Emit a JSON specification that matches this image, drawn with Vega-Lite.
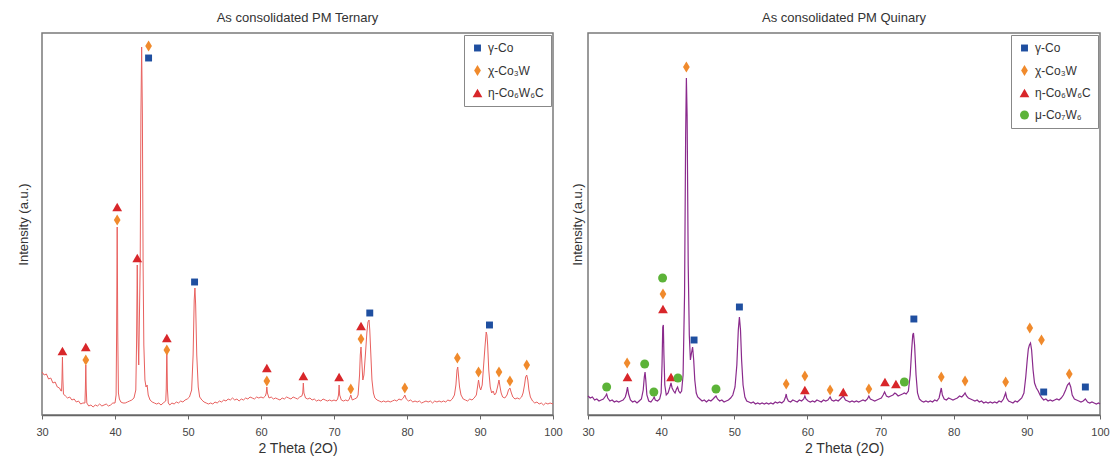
{
"$schema": "https://vega.github.io/schema/vega-lite/v6.json",
"background": "white",
"padding": {"left": 16, "top": 11, "right": 5, "bottom": 2},
"spacing": 7,
"config": {
  "font": "Liberation Sans",
  "view": {"stroke": "#7a7a7a", "strokeWidth": 1.5},
  "title": {"fontSize": 13, "fontWeight": "normal", "color": "#333333", "offset": 8, "font": "Liberation Sans"},
  "axis": {"grid": false, "labelFont": "Liberation Sans", "titleFont": "Liberation Sans", "labelColor": "#444444", "titleColor": "#333333", "titleFontWeight": "normal"},
  "legend": {"labelFont": "Liberation Sans", "labelFontSize": 12, "labelColor": "#333333", "strokeColor": "#888888", "fillColor": "white", "padding": 7, "rowPadding": 10, "offset": 2}
},
"datasets": {
"ternLine": [
{"t":30.0,"i":43},{"t":30.3,"i":40},{"t":30.6,"i":41},{"t":30.9,"i":36},{"t":31.2,"i":37},{"t":31.5,"i":32},{"t":31.8,"i":33},{"t":32.1,"i":28},{"t":32.4,"i":27},{"t":32.6,"i":24},
{"t":32.68,"i":24},{"t":32.74,"i":36},{"t":32.8,"i":58},{"t":32.86,"i":36},{"t":32.94,"i":21},
{"t":33.2,"i":19},{"t":33.5,"i":17},{"t":33.8,"i":18},{"t":34.1,"i":15},{"t":34.4,"i":16},{"t":34.7,"i":13},{"t":35.0,"i":14},{"t":35.3,"i":11},{"t":35.6,"i":12},{"t":35.88,"i":12},
{"t":35.94,"i":26},{"t":36.0,"i":50},{"t":36.06,"i":26},{"t":36.14,"i":12},
{"t":36.4,"i":9},{"t":36.7,"i":10},{"t":37.0,"i":8},{"t":37.3,"i":10},{"t":37.6,"i":9},{"t":37.9,"i":11},{"t":38.2,"i":9},{"t":38.5,"i":10},{"t":38.8,"i":11},{"t":39.1,"i":9},{"t":39.4,"i":10},{"t":39.7,"i":12},{"t":40.0,"i":12},
{"t":40.15,"i":20},{"t":40.22,"i":80},{"t":40.3,"i":188},{"t":40.38,"i":80},{"t":40.47,"i":22},
{"t":40.6,"i":16},{"t":40.8,"i":13},{"t":41.1,"i":12},{"t":41.4,"i":12},{"t":41.7,"i":13},{"t":42.0,"i":14},{"t":42.3,"i":15},{"t":42.6,"i":17},
{"t":42.85,"i":25},{"t":42.95,"i":70},{"t":43.05,"i":150},{"t":43.15,"i":80},{"t":43.25,"i":50},{"t":43.45,"i":150},{"t":43.55,"i":300},{"t":43.65,"i":368},{"t":43.75,"i":300},{"t":43.85,"i":150},{"t":43.95,"i":70},{"t":44.1,"i":35},{"t":44.25,"i":28},{"t":44.4,"i":30},{"t":44.55,"i":20},
{"t":44.8,"i":15},{"t":45.1,"i":13},{"t":45.4,"i":12},{"t":45.7,"i":11},{"t":46.0,"i":12},{"t":46.3,"i":10},{"t":46.6,"i":12},{"t":46.95,"i":14},
{"t":47.02,"i":26},{"t":47.1,"i":66},{"t":47.18,"i":26},{"t":47.3,"i":12},
{"t":47.5,"i":10},{"t":47.8,"i":12},{"t":48.1,"i":11},{"t":48.4,"i":13},{"t":48.7,"i":12},{"t":49.0,"i":14},{"t":49.3,"i":13},{"t":49.6,"i":15},{"t":49.9,"i":16},{"t":50.2,"i":18},
{"t":50.5,"i":25},{"t":50.7,"i":60},{"t":50.85,"i":115},{"t":50.95,"i":127},{"t":51.05,"i":110},{"t":51.2,"i":60},{"t":51.4,"i":28},{"t":51.6,"i":18},
{"t":51.9,"i":15},{"t":52.2,"i":13},{"t":52.5,"i":12},{"t":52.8,"i":11},{"t":53.1,"i":12},{"t":53.4,"i":11},{"t":53.7,"i":13},{"t":54.0,"i":12},{"t":54.3,"i":14},{"t":54.6,"i":13},{"t":54.9,"i":15},{"t":55.2,"i":14},{"t":55.5,"i":16},{"t":55.8,"i":15},{"t":56.1,"i":17},{"t":56.4,"i":15},{"t":56.7,"i":16},{"t":57.0,"i":14},{"t":57.3,"i":16},{"t":57.6,"i":15},{"t":57.9,"i":17},{"t":58.2,"i":16},{"t":58.5,"i":18},{"t":58.8,"i":17},{"t":59.1,"i":16},{"t":59.4,"i":18},{"t":59.7,"i":17},{"t":60.0,"i":18},{"t":60.3,"i":17},{"t":60.6,"i":19},
{"t":60.72,"i":22},{"t":60.8,"i":28},{"t":60.88,"i":22},
{"t":61.1,"i":17},{"t":61.4,"i":18},{"t":61.7,"i":16},{"t":62.0,"i":17},{"t":62.3,"i":16},{"t":62.6,"i":15},{"t":62.9,"i":17},{"t":63.2,"i":16},{"t":63.5,"i":18},{"t":63.8,"i":17},{"t":64.1,"i":16},{"t":64.4,"i":18},{"t":64.7,"i":17},{"t":65.0,"i":16},{"t":65.3,"i":18},{"t":65.6,"i":19},
{"t":65.72,"i":22},{"t":65.8,"i":32},{"t":65.88,"i":22},
{"t":66.1,"i":17},{"t":66.4,"i":16},{"t":66.7,"i":17},{"t":67.0,"i":15},{"t":67.3,"i":16},{"t":67.6,"i":14},{"t":67.9,"i":15},{"t":68.2,"i":14},{"t":68.5,"i":16},{"t":68.8,"i":15},{"t":69.1,"i":14},{"t":69.4,"i":15},{"t":69.7,"i":14},{"t":70.0,"i":15},{"t":70.3,"i":14},{"t":70.5,"i":16},
{"t":70.62,"i":20},{"t":70.7,"i":30},{"t":70.78,"i":20},
{"t":71.0,"i":15},{"t":71.3,"i":14},{"t":71.6,"i":15},{"t":71.9,"i":14},{"t":72.1,"i":16},{"t":72.3,"i":20},{"t":72.5,"i":15},{"t":72.8,"i":16},{"t":73.1,"i":17},
{"t":73.3,"i":20},{"t":73.5,"i":40},{"t":73.6,"i":60},{"t":73.7,"i":68},{"t":73.8,"i":55},{"t":73.95,"i":35},{"t":74.1,"i":40},{"t":74.3,"i":60},{"t":74.5,"i":82},{"t":74.65,"i":93},{"t":74.8,"i":95},{"t":74.9,"i":85},{"t":75.05,"i":60},{"t":75.2,"i":35},{"t":75.4,"i":22},{"t":75.6,"i":17},
{"t":75.9,"i":15},{"t":76.2,"i":14},{"t":76.5,"i":13},{"t":76.8,"i":14},{"t":77.1,"i":13},{"t":77.4,"i":14},{"t":77.7,"i":13},{"t":78.0,"i":14},{"t":78.3,"i":15},{"t":78.6,"i":14},{"t":78.9,"i":16},{"t":79.2,"i":15},{"t":79.5,"i":17},{"t":79.7,"i":20},{"t":79.9,"i":16},
{"t":80.2,"i":14},{"t":80.5,"i":15},{"t":80.8,"i":13},{"t":81.1,"i":14},{"t":81.4,"i":13},{"t":81.7,"i":14},{"t":82.0,"i":12},{"t":82.3,"i":13},{"t":82.6,"i":14},{"t":82.9,"i":13},{"t":83.2,"i":14},{"t":83.5,"i":12},{"t":83.8,"i":14},{"t":84.1,"i":13},{"t":84.4,"i":14},{"t":84.7,"i":13},{"t":85.0,"i":14},{"t":85.3,"i":13},{"t":85.6,"i":15},{"t":85.9,"i":14},{"t":86.2,"i":16},
{"t":86.5,"i":20},{"t":86.7,"i":30},{"t":86.85,"i":45},{"t":86.95,"i":48},{"t":87.05,"i":40},{"t":87.2,"i":28},{"t":87.4,"i":20},
{"t":87.7,"i":16},{"t":88.0,"i":15},{"t":88.3,"i":14},{"t":88.6,"i":16},{"t":88.9,"i":15},{"t":89.2,"i":17},
{"t":89.5,"i":20},{"t":89.7,"i":30},{"t":89.8,"i":35},{"t":89.95,"i":28},{"t":90.1,"i":25},{"t":90.3,"i":30},{"t":90.5,"i":50},{"t":90.7,"i":70},{"t":90.85,"i":83},{"t":90.95,"i":80},{"t":91.05,"i":70},{"t":91.2,"i":45},{"t":91.4,"i":28},{"t":91.6,"i":22},{"t":91.8,"i":24},{"t":92.0,"i":20},{"t":92.2,"i":22},{"t":92.4,"i":28},{"t":92.6,"i":35},{"t":92.75,"i":28},{"t":92.9,"i":22},{"t":93.1,"i":18},{"t":93.4,"i":17},{"t":93.7,"i":20},{"t":93.9,"i":25},{"t":94.1,"i":27},{"t":94.3,"i":22},{"t":94.5,"i":18},
{"t":94.8,"i":16},{"t":95.1,"i":17},{"t":95.4,"i":16},{"t":95.7,"i":18},{"t":95.9,"i":22},{"t":96.1,"i":30},{"t":96.25,"i":38},{"t":96.4,"i":40},{"t":96.55,"i":35},{"t":96.7,"i":25},{"t":96.9,"i":18},
{"t":97.2,"i":14},{"t":97.5,"i":12},{"t":97.8,"i":13},{"t":98.1,"i":11},{"t":98.4,"i":12},{"t":98.7,"i":10},{"t":99.0,"i":12},{"t":99.3,"i":11},{"t":99.6,"i":12},{"t":100.0,"i":11}
],
"ternMarks": [
{"t":44.6,"i":357,"p":"γ-Co"},{"t":50.9,"i":133,"p":"γ-Co"},{"t":74.9,"i":102,"p":"γ-Co"},{"t":91.3,"i":90,"p":"γ-Co"},
{"t":44.6,"i":369,"p":"χ-Co₃W"},{"t":40.3,"i":195,"p":"χ-Co₃W"},{"t":36.0,"i":55,"p":"χ-Co₃W"},{"t":47.1,"i":65,"p":"χ-Co₃W"},{"t":60.8,"i":34,"p":"χ-Co₃W"},{"t":72.3,"i":26,"p":"χ-Co₃W"},{"t":73.7,"i":76,"p":"χ-Co₃W"},{"t":79.7,"i":27,"p":"χ-Co₃W"},{"t":86.9,"i":57,"p":"χ-Co₃W"},{"t":89.8,"i":43,"p":"χ-Co₃W"},{"t":92.6,"i":43,"p":"χ-Co₃W"},{"t":94.1,"i":34,"p":"χ-Co₃W"},{"t":96.4,"i":50,"p":"χ-Co₃W"},
{"t":32.8,"i":64,"p":"η-Co₆W₆C"},{"t":36.0,"i":68,"p":"η-Co₆W₆C"},{"t":40.3,"i":208,"p":"η-Co₆W₆C"},{"t":43.05,"i":157,"p":"η-Co₆W₆C"},{"t":47.1,"i":77,"p":"η-Co₆W₆C"},{"t":60.8,"i":47,"p":"η-Co₆W₆C"},{"t":65.8,"i":39,"p":"η-Co₆W₆C"},{"t":70.7,"i":38,"p":"η-Co₆W₆C"},{"t":73.7,"i":89,"p":"η-Co₆W₆C"}
],
"quinLine": [
{"t":30.0,"i":19},{"t":30.3,"i":17},{"t":30.6,"i":18},{"t":30.9,"i":15},{"t":31.2,"i":16},{"t":31.5,"i":14},{"t":31.8,"i":15},{"t":32.1,"i":16},{"t":32.4,"i":19},{"t":32.55,"i":21},{"t":32.7,"i":17},
{"t":33.0,"i":14},{"t":33.3,"i":15},{"t":33.6,"i":13},{"t":33.9,"i":14},{"t":34.2,"i":13},{"t":34.5,"i":14},{"t":34.8,"i":15},{"t":35.1,"i":18},{"t":35.25,"i":22},{"t":35.4,"i":28},{"t":35.55,"i":21},{"t":35.8,"i":15},
{"t":36.1,"i":13},{"t":36.4,"i":14},{"t":36.7,"i":12},{"t":37.0,"i":14},{"t":37.3,"i":16},{"t":37.55,"i":25},{"t":37.7,"i":38},{"t":37.8,"i":43},{"t":37.9,"i":35},{"t":38.05,"i":20},
{"t":38.3,"i":14},{"t":38.6,"i":13},{"t":38.9,"i":16},{"t":39.05,"i":18},{"t":39.2,"i":15},{"t":39.5,"i":14},{"t":39.8,"i":16},
{"t":40.0,"i":22},{"t":40.12,"i":50},{"t":40.22,"i":88},{"t":40.3,"i":90},{"t":40.38,"i":60},{"t":40.5,"i":30},{"t":40.7,"i":20},{"t":40.95,"i":22},{"t":41.2,"i":28},{"t":41.35,"i":32},{"t":41.5,"i":27},{"t":41.7,"i":24},{"t":41.9,"i":22},{"t":42.1,"i":26},{"t":42.25,"i":28},{"t":42.4,"i":24},{"t":42.6,"i":22},{"t":42.8,"i":24},
{"t":43.0,"i":40},{"t":43.2,"i":120},{"t":43.35,"i":280},{"t":43.45,"i":337},{"t":43.55,"i":300},{"t":43.7,"i":150},{"t":43.85,"i":80},{"t":44.0,"i":55},{"t":44.15,"i":62},{"t":44.3,"i":68},{"t":44.45,"i":55},{"t":44.6,"i":35},{"t":44.8,"i":22},
{"t":45.0,"i":18},{"t":45.3,"i":16},{"t":45.6,"i":14},{"t":45.9,"i":15},{"t":46.2,"i":13},{"t":46.5,"i":15},{"t":46.8,"i":14},{"t":47.1,"i":16},{"t":47.35,"i":18},{"t":47.5,"i":19},{"t":47.7,"i":16},
{"t":48.0,"i":14},{"t":48.3,"i":15},{"t":48.6,"i":13},{"t":48.9,"i":14},{"t":49.2,"i":15},{"t":49.5,"i":17},{"t":49.8,"i":20},{"t":50.1,"i":28},{"t":50.35,"i":50},{"t":50.55,"i":85},{"t":50.7,"i":98},{"t":50.85,"i":85},{"t":51.0,"i":55},{"t":51.2,"i":30},{"t":51.45,"i":18},{"t":51.7,"i":14},
{"t":52.0,"i":13},{"t":52.3,"i":12},{"t":52.6,"i":13},{"t":52.9,"i":11},{"t":53.2,"i":12},{"t":53.5,"i":11},{"t":53.8,"i":12},{"t":54.1,"i":11},{"t":54.4,"i":12},{"t":54.7,"i":11},{"t":55.0,"i":12},{"t":55.3,"i":11},{"t":55.6,"i":13},{"t":55.9,"i":12},{"t":56.2,"i":13},{"t":56.5,"i":12},{"t":56.8,"i":14},{"t":57.0,"i":18},{"t":57.1,"i":21},{"t":57.2,"i":17},{"t":57.4,"i":14},
{"t":57.7,"i":13},{"t":58.0,"i":15},{"t":58.3,"i":14},{"t":58.6,"i":13},{"t":58.9,"i":15},{"t":59.2,"i":14},{"t":59.5,"i":16},{"t":59.65,"i":19},{"t":59.8,"i":16},{"t":60.1,"i":14},{"t":60.4,"i":13},{"t":60.7,"i":14},{"t":61.0,"i":13},{"t":61.3,"i":15},{"t":61.6,"i":14},{"t":61.9,"i":13},{"t":62.2,"i":15},{"t":62.5,"i":14},{"t":62.8,"i":15},{"t":63.1,"i":18},{"t":63.3,"i":15},
{"t":63.6,"i":14},{"t":63.9,"i":15},{"t":64.2,"i":14},{"t":64.5,"i":16},{"t":64.9,"i":19},{"t":65.2,"i":15},{"t":65.5,"i":14},{"t":65.8,"i":13},{"t":66.1,"i":14},{"t":66.4,"i":13},{"t":66.7,"i":14},{"t":67.0,"i":13},{"t":67.3,"i":14},{"t":67.6,"i":15},{"t":67.9,"i":14},{"t":68.2,"i":16},{"t":68.4,"i":19},{"t":68.6,"i":16},
{"t":68.9,"i":15},{"t":69.2,"i":14},{"t":69.5,"i":15},{"t":69.8,"i":16},{"t":70.1,"i":17},{"t":70.35,"i":20},{"t":70.55,"i":23},{"t":70.8,"i":19},{"t":71.1,"i":18},{"t":71.4,"i":19},{"t":71.7,"i":20},{"t":71.95,"i":22},{"t":72.15,"i":21},{"t":72.4,"i":19},{"t":72.7,"i":20},{"t":73.0,"i":21},{"t":73.25,"i":22},{"t":73.5,"i":21},{"t":73.8,"i":24},
{"t":74.05,"i":40},{"t":74.25,"i":65},{"t":74.4,"i":80},{"t":74.5,"i":82},{"t":74.65,"i":70},{"t":74.85,"i":40},{"t":75.05,"i":22},{"t":75.3,"i":16},
{"t":75.6,"i":14},{"t":75.9,"i":13},{"t":76.2,"i":14},{"t":76.5,"i":13},{"t":76.8,"i":14},{"t":77.1,"i":13},{"t":77.4,"i":15},{"t":77.7,"i":14},{"t":78.0,"i":17},{"t":78.15,"i":22},{"t":78.3,"i":27},{"t":78.45,"i":20},{"t":78.7,"i":16},
{"t":79.0,"i":15},{"t":79.3,"i":17},{"t":79.6,"i":16},{"t":79.9,"i":15},{"t":80.2,"i":16},{"t":80.5,"i":17},{"t":80.8,"i":19},{"t":81.1,"i":18},{"t":81.35,"i":20},{"t":81.55,"i":22},{"t":81.75,"i":19},{"t":82.0,"i":17},
{"t":82.3,"i":16},{"t":82.6,"i":15},{"t":82.9,"i":14},{"t":83.2,"i":15},{"t":83.5,"i":13},{"t":83.8,"i":14},{"t":84.1,"i":12},{"t":84.4,"i":13},{"t":84.7,"i":12},{"t":85.0,"i":13},{"t":85.3,"i":12},{"t":85.6,"i":13},{"t":85.9,"i":12},{"t":86.2,"i":14},{"t":86.5,"i":13},{"t":86.8,"i":16},{"t":87.0,"i":20},{"t":87.1,"i":22},{"t":87.25,"i":17},{"t":87.5,"i":14},
{"t":87.8,"i":13},{"t":88.1,"i":12},{"t":88.4,"i":14},{"t":88.7,"i":13},{"t":89.0,"i":15},{"t":89.3,"i":17},{"t":89.6,"i":22},{"t":89.85,"i":38},{"t":90.05,"i":55},{"t":90.2,"i":66},{"t":90.35,"i":70},{"t":90.5,"i":72},{"t":90.65,"i":65},{"t":90.85,"i":45},{"t":91.05,"i":32},{"t":91.3,"i":27},{"t":91.55,"i":24},{"t":91.8,"i":20},{"t":92.05,"i":17},
{"t":92.3,"i":15},{"t":92.6,"i":16},{"t":92.9,"i":14},{"t":93.2,"i":15},{"t":93.5,"i":14},{"t":93.8,"i":15},{"t":94.1,"i":16},{"t":94.4,"i":15},{"t":94.7,"i":17},{"t":95.0,"i":20},{"t":95.3,"i":25},{"t":95.55,"i":30},{"t":95.8,"i":32},{"t":96.0,"i":28},{"t":96.2,"i":20},{"t":96.5,"i":16},
{"t":96.8,"i":15},{"t":97.1,"i":14},{"t":97.4,"i":13},{"t":97.7,"i":14},{"t":98.0,"i":16},{"t":98.3,"i":13},{"t":98.6,"i":12},{"t":98.9,"i":13},{"t":99.2,"i":12},{"t":99.5,"i":11},{"t":99.8,"i":12},{"t":100.0,"i":11}
],
"quinMarks": [
{"t":44.5,"i":75,"p":"γ-Co"},{"t":50.7,"i":108,"p":"γ-Co"},{"t":74.55,"i":96,"p":"γ-Co"},{"t":92.3,"i":23,"p":"γ-Co"},{"t":98.0,"i":28,"p":"γ-Co"},
{"t":43.45,"i":348,"p":"χ-Co₃W"},{"t":40.25,"i":121,"p":"χ-Co₃W"},{"t":35.35,"i":52,"p":"χ-Co₃W"},{"t":57.1,"i":31,"p":"χ-Co₃W"},{"t":59.65,"i":39,"p":"χ-Co₃W"},{"t":63.1,"i":25,"p":"χ-Co₃W"},{"t":68.4,"i":26,"p":"χ-Co₃W"},{"t":78.3,"i":38,"p":"χ-Co₃W"},{"t":81.55,"i":34,"p":"χ-Co₃W"},{"t":87.1,"i":33,"p":"χ-Co₃W"},{"t":90.4,"i":87,"p":"χ-Co₃W"},{"t":92.0,"i":75,"p":"χ-Co₃W"},{"t":95.8,"i":41,"p":"χ-Co₃W"},
{"t":35.4,"i":38,"p":"η-Co₆W₆C"},{"t":40.25,"i":106,"p":"η-Co₆W₆C"},{"t":41.35,"i":38,"p":"η-Co₆W₆C"},{"t":59.65,"i":25,"p":"η-Co₆W₆C"},{"t":64.9,"i":23,"p":"η-Co₆W₆C"},{"t":70.6,"i":33,"p":"η-Co₆W₆C"},{"t":72.1,"i":31,"p":"η-Co₆W₆C"},
{"t":32.55,"i":28,"p":"μ-Co₇W₆"},{"t":37.75,"i":51,"p":"μ-Co₇W₆"},{"t":39.0,"i":23,"p":"μ-Co₇W₆"},{"t":40.2,"i":137,"p":"μ-Co₇W₆"},{"t":42.3,"i":37,"p":"μ-Co₇W₆"},{"t":47.5,"i":26,"p":"μ-Co₇W₆"},{"t":73.25,"i":33,"p":"μ-Co₇W₆"}
]
},
"hconcat": [
{
  "title": {"text": "As consolidated PM Ternary"},
  "width": 511, "height": 382,
  "layer": [
    {"data": {"name": "ternLine"},
     "mark": {"type": "line", "color": "#e8605e", "strokeWidth": 1, "interpolate": "linear"},
     "encoding": {
       "x": {"field": "t", "type": "quantitative", "scale": {"domain": [30, 100], "nice": false},
             "axis": {"title": "2 Theta (2O)", "values": [30,32.5,35,37.5,40,42.5,45,47.5,50,52.5,55,57.5,60,62.5,65,67.5,70,72.5,75,77.5,80,82.5,85,87.5,90,92.5,95,97.5,100],
                      "labelExpr": "datum.value % 5 === 0 ? datum.label : ''", "labelFontSize": 11, "labelPadding": 7, "tickSize": 4, "tickColor": "#666666", "domainColor": "#666666", "domainWidth": 1.5, "titleFontSize": 14, "titlePadding": 4, "labelFlush": false}},
       "y": {"field": "i", "type": "quantitative", "scale": {"domain": [0, 382], "nice": false},
             "axis": {"title": "Intensity (a.u.)", "labels": false, "ticks": false, "domain": false, "titleFontSize": 13, "titlePadding": 12}}
     }},
    {"data": {"name": "ternMarks"},
     "mark": {"type": "point", "filled": true, "opacity": 1},
     "encoding": {
       "x": {"field": "t", "type": "quantitative"},
       "y": {"field": "i", "type": "quantitative"},
       "color": {"field": "p", "type": "nominal", "title": null, "scale": {"domain": ["γ-Co", "χ-Co₃W", "η-Co₆W₆C"], "range": ["#1f4fa0", "#f08a2c", "#d8262a"]},
                 "legend": {"orient": "top-right", "title": null}},
       "shape": {"field": "p", "type": "nominal", "title": null, "scale": {"domain": ["γ-Co", "χ-Co₃W", "η-Co₆W₆C"], "range": ["square", "M0,-1L0.6,0L0,1L-0.6,0Z", "triangle-up"]},
                 "legend": {"orient": "top-right", "title": null}},
       "size": {"field": "p", "type": "nominal", "title": null, "scale": {"type": "ordinal", "domain": ["γ-Co", "χ-Co₃W", "η-Co₆W₆C"], "range": [48, 125, 95]},
                 "legend": {"orient": "top-right", "title": null}}
     }}
  ]
},
{
  "title": {"text": "As consolidated PM Quinary"},
  "width": 512, "height": 382,
  "layer": [
    {"data": {"name": "quinLine"},
     "mark": {"type": "line", "color": "#8a2a8c", "strokeWidth": 1.2, "interpolate": "linear"},
     "encoding": {
       "x": {"field": "t", "type": "quantitative", "scale": {"domain": [30, 100], "nice": false},
             "axis": {"title": "2 Theta (2O)", "values": [30,32.5,35,37.5,40,42.5,45,47.5,50,52.5,55,57.5,60,62.5,65,67.5,70,72.5,75,77.5,80,82.5,85,87.5,90,92.5,95,97.5,100],
                      "labelExpr": "datum.value % 5 === 0 ? datum.label : ''", "labelFontSize": 11, "labelPadding": 7, "tickSize": 4, "tickColor": "#666666", "domainColor": "#666666", "domainWidth": 1.5, "titleFontSize": 14, "titlePadding": 4, "labelFlush": false}},
       "y": {"field": "i", "type": "quantitative", "scale": {"domain": [0, 382], "nice": false},
             "axis": {"title": "Intensity (a.u.)", "labels": false, "ticks": false, "domain": false, "titleFontSize": 13, "titlePadding": 4}}
     }},
    {"data": {"name": "quinMarks"},
     "mark": {"type": "point", "filled": true, "opacity": 1},
     "encoding": {
       "x": {"field": "t", "type": "quantitative"},
       "y": {"field": "i", "type": "quantitative"},
       "color": {"field": "p", "type": "nominal", "title": null, "scale": {"domain": ["γ-Co", "χ-Co₃W", "η-Co₆W₆C", "μ-Co₇W₆"], "range": ["#1f4fa0", "#f08a2c", "#d8262a", "#5cb338"]},
                 "legend": {"orient": "top-right", "title": null}},
       "shape": {"field": "p", "type": "nominal", "title": null, "scale": {"domain": ["γ-Co", "χ-Co₃W", "η-Co₆W₆C", "μ-Co₇W₆"], "range": ["square", "M0,-1L0.6,0L0,1L-0.6,0Z", "triangle-up", "circle"]},
                 "legend": {"orient": "top-right", "title": null}},
       "size": {"field": "p", "type": "nominal", "title": null, "scale": {"type": "ordinal", "domain": ["γ-Co", "χ-Co₃W", "η-Co₆W₆C", "μ-Co₇W₆"], "range": [48, 125, 95, 80]},
                 "legend": {"orient": "top-right", "title": null}}
     }}
  ]
}
],
"resolve": {"scale": {"color": "independent", "shape": "independent", "size": "independent", "y": "independent", "x": "independent"}, "legend": {"color": "independent", "shape": "independent", "size": "independent"}}
}
